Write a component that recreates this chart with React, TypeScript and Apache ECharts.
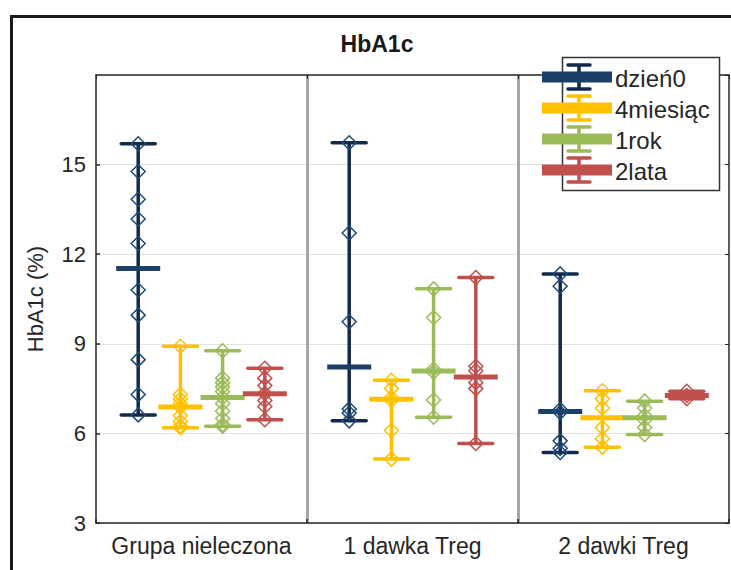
import React, { useEffect, useRef } from 'react';
import * as echarts from 'echarts';

// ---------- data ----------
const categories = ['Grupa nieleczona', '1 dawka Treg', '2 dawki Treg'];
const seriesNames = ['dzień0', '4miesiąc', '1rok', '2lata'];
const yTicks = [3, 6, 9, 12, 15];

// individual values (diamonds) per group
const dzien0Points = [
  [15.7, 14.77, 13.84, 13.18, 12.36, 10.8, 9.96, 8.47, 7.3, 6.62],
  [15.73, 12.71, 9.74, 6.82, 6.68, 6.42],
  [11.34, 10.93, 6.8, 6.7, 5.75, 5.5, 5.36],
];
const miesiac4Points = [
  [8.92, 7.3, 7.15, 7.0, 6.88, 6.6, 6.4, 6.25, 6.19],
  [7.78, 7.5, 7.2, 7.1, 6.1, 5.14],
  [7.43, 7.16, 6.85, 6.2, 5.82, 5.54],
];
const rok1Points = [
  [8.77, 7.85, 7.7, 7.55, 7.4, 7.2, 7.0, 6.75, 6.5, 6.3, 6.24],
  [10.84, 9.88, 8.15, 8.05, 7.12, 6.54],
  [7.08, 6.85, 6.6, 6.45, 6.2, 5.96],
];
const lata2Points = [
  [8.18, 7.85, 7.6, 7.34, 7.1, 6.9, 6.46],
  [11.22, 8.25, 8.1, 7.7, 7.5, 5.66],
  [7.41, 7.27, 7.16],
];

// whisker ends and central bar per group
const dzien0Low = [6.62, 6.42, 5.36];
const dzien0High = [15.7, 15.73, 11.34];
const dzien0Median = [11.52, 8.22, 6.73];

const miesiac4Low = [6.19, 5.14, 5.54];
const miesiac4High = [8.92, 7.78, 7.43];
const miesiac4Median = [6.88, 7.14, 6.52];

const rok1Low = [6.24, 6.54, 5.96];
const rok1High = [8.77, 10.84, 7.08];
const rok1Median = [7.2, 8.09, 6.52];

const lata2Low = [6.46, 5.66, 7.16];
const lata2High = [8.18, 11.22, 7.41];
const lata2Median = [7.33, 7.89, 7.27];

const allPoints = [dzien0Points, miesiac4Points, rok1Points, lata2Points];
const allLow = [dzien0Low, miesiac4Low, rok1Low, lata2Low];
const allHigh = [dzien0High, miesiac4High, rok1High, lata2High];
const allMedian = [dzien0Median, miesiac4Median, rok1Median, lata2Median];

// ---------- styles ----------
const FONT = "'Liberation Sans', Arial, Helvetica, sans-serif";
const TEXT = '#262626';
const STYLES = [
  { whisker: '#12294A', median: '#1B3F66', diamond: '#1F4A78' },
  { whisker: '#FFC000', median: '#FFC000', diamond: '#FFC000' },
  { whisker: '#9BBB59', median: '#9BBB59', diamond: '#9BBB59' },
  { whisker: '#C0504D', median: '#C0504D', diamond: '#C0504D' },
];
const OFFSETS = [-0.3, -0.1, 0.1, 0.3];

function makeRender(idx: number) {
  return (params: any, api: any) => {
    const g = api.value(0);
    const band = api.size([1, 0])[0];
    const pLow = api.coord([g, api.value(1)]);
    const cx = pLow[0] + OFFSETS[idx] * band;
    const yLow = pLow[1];
    const yHigh = api.coord([g, api.value(2)])[1];
    const yMed = api.coord([g, api.value(3)])[1];
    const capHalf = 17;
    const medHalf = 22;
    const d = 7;
    const st = STYLES[idx];
    const children: any[] = [
      { type: 'line', shape: { x1: cx, y1: yLow, x2: cx, y2: yHigh }, style: { stroke: st.whisker, lineWidth: 3.5 } },
      { type: 'line', shape: { x1: cx - capHalf, y1: yHigh, x2: cx + capHalf, y2: yHigh }, style: { stroke: st.whisker, lineWidth: 3.5, lineCap: 'round' } },
      { type: 'line', shape: { x1: cx - capHalf, y1: yLow, x2: cx + capHalf, y2: yLow }, style: { stroke: st.whisker, lineWidth: 3.5, lineCap: 'round' } },
      { type: 'line', shape: { x1: cx - medHalf, y1: yMed, x2: cx + medHalf, y2: yMed }, style: { stroke: st.median, lineWidth: 5 } },
    ];
    allPoints[idx][params.dataIndex].forEach((v: number) => {
      const y = api.coord([g, v])[1];
      children.push({
        type: 'polygon',
        shape: { points: [[cx, y - d], [cx + d, y], [cx, y + d], [cx - d, y]] },
        style: { fill: 'none', stroke: st.diamond, lineWidth: 1.5 },
      });
    });
    return { type: 'group', children };
  };
}

function buildLegend() {
  const elems: any[] = [
    { type: 'rect', z: 100, shape: { x: 562.5, y: 57.5, width: 157, height: 133 }, style: { fill: '#fff', stroke: '#333', lineWidth: 1.5 } },
  ];
  seriesNames.forEach((name, i) => {
    const cy = 77 + i * 31;
    const st = STYLES[i];
    elems.push(
      { type: 'line', z: 101, shape: { x1: 579, y1: cy - 12, x2: 579, y2: cy + 12 }, style: { stroke: st.whisker, lineWidth: 3.5 } },
      { type: 'line', z: 101, shape: { x1: 568, y1: cy - 12, x2: 590, y2: cy - 12 }, style: { stroke: st.whisker, lineWidth: 3.5, lineCap: 'round' } },
      { type: 'line', z: 101, shape: { x1: 568, y1: cy + 12, x2: 590, y2: cy + 12 }, style: { stroke: st.whisker, lineWidth: 3.5, lineCap: 'round' } },
      { type: 'rect', z: 102, shape: { x: 542, y: cy - 5.5, width: 70, height: 11 }, style: { fill: st.median } },
      { type: 'text', z: 103, x: 615, y: cy + 1, style: { text: name, font: `24px ${FONT}`, fill: TEXT, align: 'left', verticalAlign: 'middle' } },
    );
  });
  return elems;
}

export default function App() {
  const ref = useRef<HTMLDivElement>(null);
  useEffect(() => {
    if (!ref.current) return;
    const chart = echarts.init(ref.current, undefined, { renderer: 'svg' });
    const axisLine = { show: true, lineStyle: { color: TEXT, width: 1.5 } };
    const option: any = {
      animation: false,
      backgroundColor: '#fff',
      grid: { left: 96, top: 75, width: 633, height: 448, containLabel: false },
      xAxis: [
        {
          type: 'category',
          data: categories,
          position: 'bottom',
          boundaryGap: true,
          axisLine,
          axisTick: { show: true, inside: true, length: 4, interval: 0, lineStyle: { color: TEXT, width: 1.5 } },
          axisLabel: { fontSize: 23, color: TEXT, fontFamily: FONT, margin: 11, interval: 0 },
          splitLine: { show: true, interval: 0, showMinLine: false, showMaxLine: false, lineStyle: { color: '#a6a6a6', width: 3 } },
        },
        {
          type: 'category',
          data: categories,
          position: 'top',
          boundaryGap: true,
          axisLine,
          axisTick: { show: true, inside: true, length: 4, interval: 0, lineStyle: { color: TEXT } },
          axisLabel: { show: false },
          splitLine: { show: false },
        },
      ],
      yAxis: [
        {
          type: 'value',
          min: 3,
          max: 18,
          interval: 3,
          position: 'left',
          axisLine,
          axisTick: { show: true, inside: true, length: 4, lineStyle: { color: TEXT, width: 1.5 } },
          axisLabel: {
            fontSize: 22, color: TEXT, fontFamily: FONT, margin: 10, showMaxLabel: false,
            formatter: (v: number) => (yTicks.includes(v) ? String(v) : ''),
          },
          splitLine: { show: true, lineStyle: { color: '#e2e2e2', width: 1 } },
          name: 'HbA1c (%)',
          nameLocation: 'middle',
          nameRotate: 90,
          nameGap: 50,
          nameTextStyle: { fontSize: 22, color: TEXT, fontFamily: FONT },
        },
        {
          type: 'value',
          min: 3,
          max: 18,
          interval: 3,
          position: 'right',
          axisLine,
          axisTick: { show: true, inside: true, length: 4, lineStyle: { color: TEXT } },
          axisLabel: { show: false },
          splitLine: { show: false },
        },
      ],
      series: seriesNames.map((name, idx) => ({
        type: 'custom',
        name,
        xAxisIndex: 0,
        yAxisIndex: 0,
        z: 3 + idx,
        renderItem: makeRender(idx),
        encode: { x: 0, y: [1, 2, 3] },
        data: categories.map((_, g) => [g, allLow[idx][g], allHigh[idx][g], allMedian[idx][g]]),
        clip: false,
      })),
      graphic: [
        { type: 'rect', z: -10, silent: true, shape: { x: 11.5, y: 16.5, width: 900, height: 900 }, style: { fill: 'none', stroke: '#1a1a1a', lineWidth: 3 } },
        { type: 'text', z: 50, x: 377, y: 44, style: { text: 'HbA1c', font: `bold 23px ${FONT}`, fill: '#1a1a1a', align: 'center', verticalAlign: 'middle' } },
        ...buildLegend(),
      ],
    };
    chart.setOption(option);
    return () => chart.dispose();
  }, []);
  return <div ref={ref} style={{ position: 'fixed', left: 0, top: 0, width: 731, height: 570 }} />;
}
